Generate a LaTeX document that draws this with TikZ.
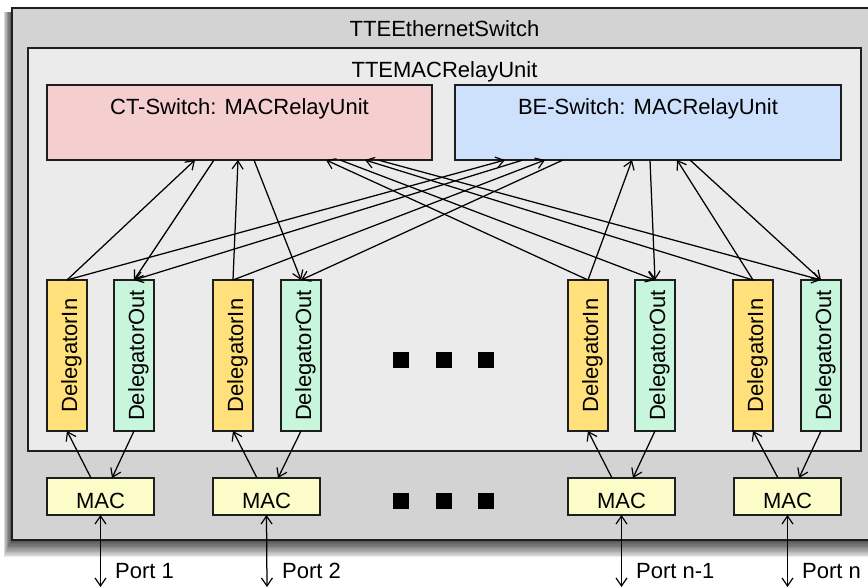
\documentclass[tikz,border=0pt]{standalone}
\usepackage{fontspec}
\setmainfont{Liberation Sans}
\usetikzlibrary{arrows.meta}
\definecolor{outerc}{RGB}{211,211,211}
\definecolor{innerc}{RGB}{235,235,235}
\definecolor{ctc}{RGB}{245,206,208}
\definecolor{bec}{RGB}{206,225,252}
\definecolor{dinc}{RGB}{255,224,122}
\definecolor{doutc}{RGB}{200,246,220}
\definecolor{macc}{RGB}{252,252,200}
\definecolor{edgec}{RGB}{30,30,30}
\begin{document}
\begin{tikzpicture}[x=1pt,y=-1pt,
  box/.style={draw=edgec, line width=1.4pt, inner sep=0pt, outer sep=0pt, rectangle, anchor=north west},
  lbl/.style={font=\fontsize{22}{24}\selectfont, inner sep=0pt, text=black},
  dinbox/.style={box, fill=dinc, minimum width=40, minimum height=151},
  doutbox/.style={box, fill=doutc, minimum width=40, minimum height=151},
  macbox/.style={box, fill=macc, minimum width=107, minimum height=37},
  tip/.tip={Straight Barb[length=8pt,width=11pt,line width=1.2pt]},
  arr/.style={line width=1.25pt, -tip},
  dbl/.style={line width=1.25pt, tip-tip},
  dot/.style={fill=black}]
\clip (0,0) rectangle (868,588);
\fill[white] (0,0) rectangle (868,588);
% shadow of outer box
\foreach \i in {1,...,14} {
  \fill[black, opacity=0.075] (12-0.6*\i, 12) rectangle (877+\i, 539+1.3*\i);
}
% outer and inner boxes
\node[box, fill=outerc, minimum width=865, minimum height=532] (sw) at (12,8) {};
\node[lbl, anchor=base] (tsw) at (444.5,37) {TTEEthernetSwitch};
\node[box, fill=innerc, minimum width=833, minimum height=403] (relay) at (28,48) {};
\node[lbl, anchor=base] (trelay) at (444.5,78) {TTEMACRelayUnit};
% switches
\node[box, fill=ctc, minimum width=385, minimum height=75] (ct) at (47,85) {};
\node[lbl, anchor=base] (tct) at (239.5,115) {CT-Switch: MACRelayUnit};
\node[box, fill=bec, minimum width=386, minimum height=75] (be) at (455,85) {};
\node[lbl, anchor=base] (tbe) at (648,115) {BE-Switch: MACRelayUnit};
% delegators
\node[dinbox] (din1) at (47,280) {};
\node[doutbox] (dout1) at (114,280) {};
\node[dinbox] (din2) at (213,280) {};
\node[doutbox] (dout2) at (281,280) {};
\node[dinbox] (din3) at (568,280) {};
\node[doutbox] (dout3) at (635,280) {};
\node[dinbox] (din4) at (733,280) {};
\node[doutbox] (dout4) at (801,280) {};
\foreach \n in {din1,din2,din3,din4} {
  \node[lbl, rotate=90, anchor=base] (t\n) at ([xshift=10pt]\n.center) {DelegatorIn};
}
\foreach \n in {dout1,dout2,dout3,dout4} {
  \node[lbl, rotate=90, anchor=base] (t\n) at ([xshift=10pt]\n.center) {DelegatorOut};
}
% MACs
\node[macbox] (mac1) at (47,478) {};
\node[macbox] (mac2) at (213,478) {};
\node[macbox] (mac3) at (568,478) {};
\node[macbox] (mac4) at (734,478) {};
\foreach \n in {mac1,mac2,mac3,mac4} {
  \node[lbl, anchor=base] (t\n) at ([yshift=-12pt]\n.center) {MAC};
}
% ellipsis squares
\foreach \x in {401,444,486} {
  \fill[dot] (\x-8,352) rectangle (\x+8,368);
  \fill[dot] (\x-8,493) rectangle (\x+8,509);
}
% delegator <-> CT switch
\draw[arr] (din1.north) -- ([xshift=148pt]ct.south west);
\draw[arr] ([xshift=167pt]ct.south west) -- (dout1.north);
\draw[arr] (din2.north) -- ([xshift=191pt]ct.south west);
\draw[arr] ([xshift=207pt]ct.south west) -- (dout2.north);
\draw[arr] (din3.north) -- ([xshift=279pt]ct.south west);
\draw[arr] ([xshift=293pt]ct.south west) -- (dout3.north);
\draw[arr] (din4.north) -- ([xshift=318pt]ct.south west);
\draw[arr] ([xshift=331pt]ct.south west) -- (dout4.north);
% delegator <-> BE switch
\draw[arr] (din1.north) -- ([xshift=50pt]be.south west);
\draw[arr] ([xshift=68pt]be.south west) -- (dout1.north);
\draw[arr] (din2.north) -- ([xshift=90pt]be.south west);
\draw[arr] ([xshift=108pt]be.south west) -- (dout2.north);
\draw[arr] (din3.north) -- ([xshift=177pt]be.south west);
\draw[arr] ([xshift=195pt]be.south west) -- (dout3.north);
\draw[arr] (din4.north) -- ([xshift=222pt]be.south west);
\draw[arr] ([xshift=235pt]be.south west) -- (dout4.north);
% MAC <-> delegators
\foreach \i in {1,2,3,4} {
  \draw[arr] ([xshift=44pt]mac\i.north west) -- (din\i.south);
  \draw[arr] (dout\i.south) -- ([xshift=65pt]mac\i.north west);
}
% ports
\coordinate (p1) at (100.5,587);
\coordinate (p2) at (267,587);
\coordinate (p3) at (621.5,587);
\coordinate (p4) at (787.5,587);
\foreach \i in {1,2,3,4} {
  \draw[dbl] (mac\i.south) -- (p\i);
}
\node[lbl, anchor=base west] (tp1) at (115,578) {Port 1};
\node[lbl, anchor=base west] (tp2) at (282,578) {Port 2};
\node[lbl, anchor=base west] (tp3) at (636,578) {Port n-1};
\node[lbl, anchor=base west] (tp4) at (802,578) {Port n};
\end{tikzpicture}
\end{document}
